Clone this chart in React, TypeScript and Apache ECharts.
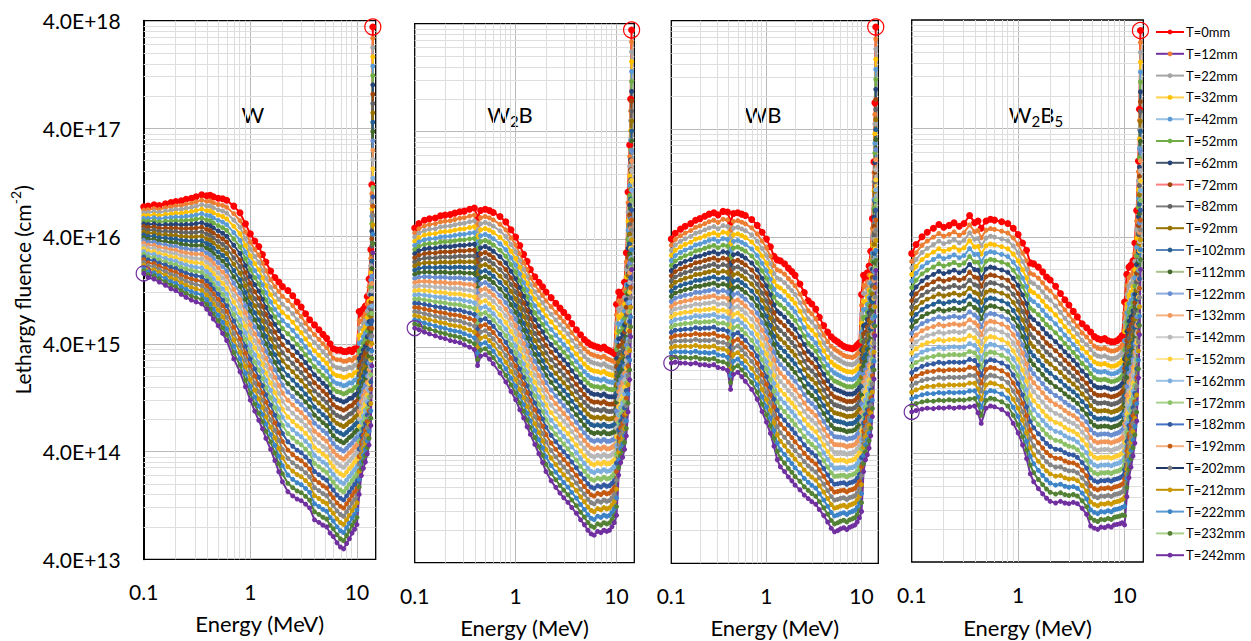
import { useEffect, useRef } from 'react';
import * as echarts from 'echarts';

// ---------- data ----------
const ENERGY_MEV = [
  0.1, 0.11, 0.125, 0.14, 0.16, 0.18, 0.2, 0.225, 0.25, 0.28,
  0.31, 0.35, 0.39, 0.42, 0.45, 0.5, 0.55, 0.6, 0.7, 0.8,
  0.9, 1.0, 1.1, 1.2, 1.3, 1.4, 1.55, 1.7, 1.85, 2.0,
  2.25, 2.5, 2.75, 3.0, 3.3, 3.6, 4.0, 4.4, 4.8, 5.2,
  5.6, 6.0, 6.5, 7.0, 7.5, 8.0, 8.5, 9.0, 9.5, 10.0,
  10.5, 11.0, 11.5, 12.0, 12.5, 13.0, 13.5, 13.8, 14.1,
];

const THICKNESS_MM = [0, 12, 22, 32, 42, 52, 62, 72, 82, 92, 102, 112, 122, 132, 142, 152, 162, 172, 182, 192, 202, 212, 222, 232, 242];

// W : thinnest (T=0) and thickest (T=242) spectra
const W_T0 = [
  7.5e16, 7.6e16, 7.8e16, 7.7e16, 8.0e16, 8.2e16, 8.4e16, 8.5e16, 8.8e16, 9.0e16,
  9.3e16, 9.7e16, 9.5e16, 9.6e16, 9.3e16, 9.0e16, 8.9e16, 8.6e16, 7.6e16, 6.6e16,
  5.2e16, 4.2e16, 3.6e16, 3.2e16, 2.7e16, 2.3e16, 1.9e16, 1.65e16, 1.5e16, 1.36e16,
  1.25e16, 1.12e16, 9.8e15, 8.8e15, 7.6e15, 6.7e15, 6.0e15, 5.4e15, 4.9e15, 4.5e15,
  4.0e15, 3.6e15, 3.5e15, 3.5e15, 3.4e15, 3.4e15, 3.5e15, 3.4e15, 3.6e15, 3.6e15,
  8.0e15, 7.6e15, 8.4e15, 9.0e15, 1.1e16, 1.6e16, 3.0e16, 1.2e17, 3.5e18,
];
const W_T242 = [
  1.8e16, 1.65e16, 1.6e16, 1.5e16, 1.4e16, 1.3e16, 1.25e16, 1.15e16, 1.08e16, 1.02e16,
  9.8e15, 9.4e15, 8.4e15, 7.6e15, 6.8e15, 5.9e15, 5.0e15, 4.3e15, 2.9e15, 2.2e15,
  1.6e15, 1.2e15, 9.5e14, 7.8e14, 6.5e14, 5.3e14, 4.2e14, 3.3e14, 2.6e14, 2.1e14,
  1.7e14, 1.55e14, 1.45e14, 1.4e14, 1.3e14, 1.2e14, 9.3e13, 8.8e13, 8.3e13, 8.0e13,
  7.0e13, 6.5e13, 5.7e13, 5.2e13, 5.0e13, 5.6e13, 6.2e13, 7.0e13, 7.6e13, 8.4e13,
  1.6e14, 2.4e14, 2.8e14, 3.2e14, 3.8e14, 4.6e14, 7.0e14, 2.5e15, 2.8e16,
];

// W2B
const W2B_T0 = [
  5.1e16, 5.6e16, 6.0e16, 6.2e16, 6.3e16, 6.6e16, 6.7e16, 6.8e16, 7.0e16, 7.2e16,
  7.3e16, 7.6e16, 7.8e16, 6.4e16, 7.4e16, 7.6e16, 7.4e16, 7.1e16, 6.5e16, 5.8e16,
  4.9e16, 4.2e16, 3.5e16, 2.9e16, 2.5e16, 2.1e16, 1.8e16, 1.6e16, 1.45e16, 1.3e16,
  1.15e16, 1.02e16, 9.2e15, 8.4e15, 7.6e15, 6.6e15, 5.8e15, 5.2e15, 4.7e15, 4.4e15,
  4.2e15, 4.1e15, 4.0e15, 3.9e15, 4.0e15, 3.8e15, 3.7e15, 3.6e15, 3.5e15, 1.0e16,
  1.3e16, 1.2e16, 1.3e16, 1.6e16, 3.0e16, 1.1e17, 3.0e17, 8.0e17, 3.5e18,
];
const W2B_T242 = [
  6.0e15, 5.8e15, 5.5e15, 5.3e15, 5.1e15, 4.9e15, 4.8e15, 4.6e15, 4.5e15, 4.4e15,
  4.2e15, 4.0e15, 3.8e15, 2.7e15, 3.3e15, 3.4e15, 3.1e15, 2.8e15, 2.3e15, 1.9e15,
  1.55e15, 1.3e15, 1.05e15, 8.8e14, 7.3e14, 6.2e14, 5.0e14, 4.1e14, 3.4e14, 2.8e14,
  2.3e14, 2.0e14, 1.77e14, 1.6e14, 1.45e14, 1.3e14, 1.15e14, 1.0e14, 9.0e13, 8.0e13,
  7.4e13, 7.2e13, 7.8e13, 7.6e13, 8.0e13, 7.8e13, 8.0e13, 8.6e13, 9.4e13, 1.1e14,
  2.6e14, 3.4e14, 3.8e14, 4.5e14, 6.0e14, 1.0e15, 2.0e15, 5.0e15, 2.1e16,
];

// WB
const WB_T0 = [
  3.9e16, 4.4e16, 4.8e16, 5.1e16, 5.4e16, 5.8e16, 6.0e16, 6.3e16, 6.6e16, 6.8e16,
  6.5e16, 7.0e16, 6.9e16, 5.6e16, 6.7e16, 6.8e16, 6.6e16, 6.4e16, 5.9e16, 5.2e16,
  4.5e16, 3.9e16, 3.3e16, 2.7e16, 2.5e16, 2.45e16, 2.3e16, 2.1e16, 1.95e16, 1.8e16,
  1.5e16, 1.25e16, 1.05e16, 9.8e15, 8.8e15, 7.4e15, 6.2e15, 5.4e15, 4.9e15, 4.6e15,
  4.4e15, 4.2e15, 4.0e15, 3.9e15, 3.85e15, 3.8e15, 3.9e15, 4.1e15, 4.3e15, 1.2e16,
  1.8e16, 1.7e16, 1.9e16, 2.2e16, 3.0e16, 6.0e16, 2.0e17, 7.0e17, 3.5e18,
];
const WB_T242 = [
  2.8e15, 2.85e15, 2.8e15, 2.8e15, 2.75e15, 2.8e15, 2.7e15, 2.7e15, 2.65e15, 2.7e15,
  2.55e15, 2.5e15, 2.4e15, 1.6e15, 2.2e15, 2.3e15, 2.1e15, 1.9e15, 1.6e15, 1.3e15,
  1.0e15, 8.0e14, 6.3e14, 4.8e14, 3.6e14, 3.1e14, 2.8e14, 2.5e14, 2.3e14, 2.1e14,
  1.9e14, 1.7e14, 1.58e14, 1.48e14, 1.4e14, 1.25e14, 1.1e14, 9.6e13, 8.4e13, 7.8e13,
  8.0e13, 8.3e13, 8.5e13, 8.2e13, 8.6e13, 8.8e13, 9.0e13, 9.6e13, 1.05e14, 1.2e14,
  2.8e14, 3.6e14, 4.0e14, 4.6e14, 6.0e14, 9.0e14, 2.0e15, 5.0e15, 2.0e16,
];

// W2B5
const W2B5_T0 = [
  2.8e16, 3.4e16, 4.0e16, 4.4e16, 4.8e16, 5.2e16, 4.9e16, 5.1e16, 5.4e16, 5.0e16,
  5.3e16, 6.3e16, 5.4e16, 5.6e16, 4.8e16, 5.6e16, 5.8e16, 5.7e16, 5.5e16, 5.3e16,
  4.8e16, 4.2e16, 3.5e16, 3.0e16, 2.3e16, 2.25e16, 2.1e16, 1.9e16, 1.7e16, 1.6e16,
  1.4e16, 1.2e16, 1.05e16, 9.4e15, 8.2e15, 7.3e15, 6.3e15, 5.8e15, 5.3e15, 4.8e15,
  4.6e15, 4.5e15, 4.6e15, 4.4e15, 4.3e15, 4.3e15, 4.4e15, 4.6e15, 4.9e15, 1.0e16,
  1.8e16, 2.1e16, 2.2e16, 2.4e16, 3.5e16, 7.0e16, 2.0e17, 6.0e17, 3.2e18,
];
const W2B5_T242 = [
  9.7e14, 1.0e15, 1.03e15, 1.05e15, 1.04e15, 1.06e15, 1.05e15, 1.07e15, 1.05e15, 1.07e15,
  1.06e15, 1.08e15, 1.1e15, 9.5e14, 7.6e14, 1.05e15, 1.1e15, 1.08e15, 1.02e15, 9.3e14,
  7.6e14, 6.2e14, 4.8e14, 3.6e14, 2.6e14, 2.2e14, 1.9e14, 1.7e14, 1.55e14, 1.45e14,
  1.4e14, 1.45e14, 1.4e14, 1.38e14, 1.42e14, 1.38e14, 1.25e14, 1.1e14, 8.6e13, 8.2e13,
  8.0e13, 8.4e13, 8.3e13, 8.6e13, 8.4e13, 8.8e13, 8.9e13, 9.0e13, 9.2e13, 8.8e13,
  1.6e14, 2.4e14, 3.0e14, 3.8e14, 5.0e14, 8.0e14, 2.0e15, 5.0e15, 2.0e16,
];

const X_TICK_LABELS = ['0.1', '1', '10'];
const Y_TICK_LABELS = ['4.0E+13', '4.0E+14', '4.0E+15', '4.0E+16', '4.0E+17', '4.0E+18'];

const MARKER_COLORS = [
  '#FF0000', '#ED7D31', '#A5A5A5', '#FFC000', '#5B9BD5', '#70AD47', '#264478', '#9E480E',
  '#636363', '#997300', '#255E91', '#43682B', '#698ED0', '#F1975A', '#B7B7B7', '#FFCD33',
  '#7CAFDD', '#8CC168', '#335AA1', '#C55A11', '#848484', '#CC9900', '#3C84C7', '#548235', '#7030A0',
];
const LEGEND_LINE_COLORS = [
  '#FF0000', '#7030A0', '#A5A5A5', '#FFD34D', '#9DC3E6', '#70AD47', '#44546A', '#FF7C80',
  '#7F7F7F', '#997300', '#5B86B8', '#A9C18B', '#8FAADC', '#F4B183', '#D0CECE', '#FFE699',
  '#9DC3E6', '#A9D18E', '#4472C4', '#F4B183', '#1F3864', '#BF9000', '#5B9BD5', '#A9D18E', '#7030A0',
];

// ---------- layout ----------
const FONT = 'Lato, "Open Sans", sans-serif';
const GRID_RECTS = [
  { left: 143.7, top: 20.7, width: 232, height: 538.6 },
  { left: 414.7, top: 23.7, width: 219.6, height: 539 },
  { left: 671.3, top: 20.7, width: 207, height: 542.6 },
  { left: 911.7, top: 20, width: 231.6, height: 542 },
];
const PANELS = [
  { label: '{m|W}', lx: 253, top: W_T0, bottom: W_T242 },
  { label: '{m|W}{s|2}{m|B}', lx: 510, top: W2B_T0, bottom: W2B_T242 },
  { label: '{m|WB}', lx: 763, top: WB_T0, bottom: WB_T242 },
  { label: '{m|W}{s|2}{m|B}{s|5}', lx: 1036, top: W2B5_T0, bottom: W2B5_T242 },
];

const Y_REF = 4e13;
const yPos = (v: number) => Math.log10(v / Y_REF);
const X_MAX = Math.log10(15);

const MINOR_X: number[] = [];
[0.1, 1].forEach((d) => { for (let k = 2; k <= 9; k++) MINOR_X.push(Math.log10(k * d)); });
const MINOR_Y: number[] = [];
for (let n = 0; n < 5; n++) for (let k = 2; k <= 9; k++) MINOR_Y.push(n + Math.log10(k));

const TITLE_RICH = {
  m: { fontSize: 22, lineHeight: 28, fontFamily: FONT, color: '#000' },
  s: { fontSize: 15, lineHeight: 15, fontFamily: FONT, color: '#000', verticalAlign: 'bottom' },
};

function buildOption() {
  const grids = GRID_RECTS.map((r) => ({
    ...r,
    show: true,
    borderColor: '#000',
    borderWidth: 1.3,
    backgroundColor: 'transparent',
    containLabel: false,
  }));

  const xAxes = GRID_RECTS.map((_, i) => ({
    gridIndex: i,
    type: 'value',
    min: -1,
    max: X_MAX,
    interval: 1,
    axisLine: { show: false, onZero: false },
    axisTick: { show: false },
    splitLine: { show: true, showMinLine: false, showMaxLine: false, lineStyle: { color: '#b8b8b8', width: 1 } },
    axisLabel: {
      fontFamily: FONT,
      fontSize: 21,
      color: '#000',
      margin: 22,
      formatter: (v: number) => {
        const r = Math.round(v);
        return Math.abs(v - r) < 1e-6 ? X_TICK_LABELS[r + 1] ?? '' : '';
      },
    },
  }));

  const yAxes = GRID_RECTS.map((_, i) => ({
    gridIndex: i,
    type: 'value',
    min: 0,
    max: 5,
    interval: 1,
    axisLine: { show: i === 0, onZero: false, lineStyle: { color: '#000', width: 2 } },
    axisTick: { show: false },
    splitLine: { show: true, showMinLine: false, showMaxLine: false, lineStyle: { color: '#b8b8b8', width: 1 } },
    axisLabel: {
      show: i === 0,
      fontFamily: FONT,
      fontSize: 21,
      color: '#000',
      margin: 23,
      formatter: (v: number) => {
        const r = Math.round(v);
        return Math.abs(v - r) < 1e-6 ? Y_TICK_LABELS[r] ?? '' : '';
      },
    },
  }));

  const series: any[] = [];
  PANELS.forEach((p, gi) => {
    series.push({
      type: 'line',
      name: 'minor-grid-' + gi,
      xAxisIndex: gi,
      yAxisIndex: gi,
      data: [],
      silent: true,
      z: 1,
      markLine: {
        silent: true,
        z: 1,
        symbol: ['none', 'none'],
        label: { show: false },
        emphasis: { disabled: true },
        lineStyle: { color: '#dedede', width: 1, type: 'solid' },
        data: [
          ...MINOR_X.map((v) => ({ xAxis: v })),
          ...MINOR_Y.map((v) => ({ yAxis: v })),
        ],
      },
    });
    THICKNESS_MM.forEach((t, si) => {
      const w = t / THICKNESS_MM[THICKNESS_MM.length - 1];
      const data = ENERGY_MEV.map((e, k) => {
        const lv = Math.log10(p.top[k]) * (1 - w) + Math.log10(p.bottom[k]) * w;
        return [Math.log10(e), lv - Math.log10(Y_REF)];
      });
      const s: any = {
        type: 'line',
        name: `T=${t}mm`,
        xAxisIndex: gi,
        yAxisIndex: gi,
        data,
        symbol: 'circle',
        symbolSize: si === 0 ? 7 : 5,
        showSymbol: true,
        silent: true,
        z: 2,
        lineStyle: { color: MARKER_COLORS[si], width: 2 },
        itemStyle: { color: MARKER_COLORS[si] },
        emphasis: { disabled: true },
      };
      if (si === 0) {
        s.markPoint = {
          silent: true,
          symbol: 'circle',
          symbolSize: 16,
          label: { show: false },
          itemStyle: { color: 'rgba(0,0,0,0)', borderColor: '#FF0000', borderWidth: 1.2 },
          data: [{ coord: [Math.log10(ENERGY_MEV[ENERGY_MEV.length - 1]), yPos(p.top[p.top.length - 1])] }],
        };
      }
      if (si === THICKNESS_MM.length - 1) {
        s.markPoint = {
          silent: true,
          symbol: 'circle',
          symbolSize: 15,
          label: { show: false },
          itemStyle: { color: 'rgba(0,0,0,0)', borderColor: '#7030A0', borderWidth: 1.2 },
          data: [{ coord: [Math.log10(ENERGY_MEV[0]), yPos(p.bottom[0])] }],
        };
      }
      series.push(s);
    });
  });

  const graphic: any[] = [];
  PANELS.forEach((p) => {
    graphic.push({
      type: 'text',
      x: p.lx,
      y: 114,
      silent: true,
      style: { text: p.label, rich: TITLE_RICH, align: 'center', verticalAlign: 'middle', fill: '#000' },
    });
  });
  GRID_RECTS.forEach((r, i) => {
    graphic.push({
      type: 'text',
      x: r.left + r.width / 2,
      y: i === 0 ? 623 : 627,
      silent: true,
      style: { text: 'Energy (MeV)', fontFamily: FONT, fontSize: 22, fill: '#000', align: 'center', verticalAlign: 'middle' },
    });
  });
  graphic.push({
    type: 'text',
    x: 22,
    y: 290,
    rotation: Math.PI / 2,
    silent: true,
    style: {
      text: '{a|Lethargy fluence (cm}{s|-2}{a|)}',
      rich: {
        a: { fontSize: 21, lineHeight: 28, fontFamily: FONT, color: '#000' },
        s: { fontSize: 14, lineHeight: 14, fontFamily: FONT, color: '#000', verticalAlign: 'top' },
      },
      align: 'center',
      verticalAlign: 'middle',
      fill: '#000',
    },
  });

  return {
    animation: false,
    backgroundColor: '#fff',
    grid: grids,
    xAxis: xAxes,
    yAxis: yAxes,
    legend: {
      orient: 'vertical',
      left: 1150,
      top: 20,
      itemWidth: 28,
      itemHeight: 6,
      itemGap: 7.8,
      selectedMode: false,
      textStyle: { fontFamily: FONT, fontSize: 13, lineHeight: 14, color: '#000', padding: [0, 0, 0, -3] },
      data: THICKNESS_MM.map((t, i) => ({
        name: `T=${t}mm`,
        itemStyle: { color: MARKER_COLORS[i] },
        lineStyle: { color: LEGEND_LINE_COLORS[i], width: 2 },
      })),
    },
    graphic,
    series,
  };
}

export default function App() {
  const ref = useRef<HTMLDivElement>(null);
  useEffect(() => {
    if (!ref.current) return;
    const chart = echarts.init(ref.current, undefined, { renderer: 'svg' });
    chart.setOption(buildOption() as any);
    return () => chart.dispose();
  }, []);
  return (
    <div
      ref={ref}
      style={{ position: 'fixed', left: 0, top: 0, width: 1251, height: 641, background: '#fff' }}
    />
  );
}
